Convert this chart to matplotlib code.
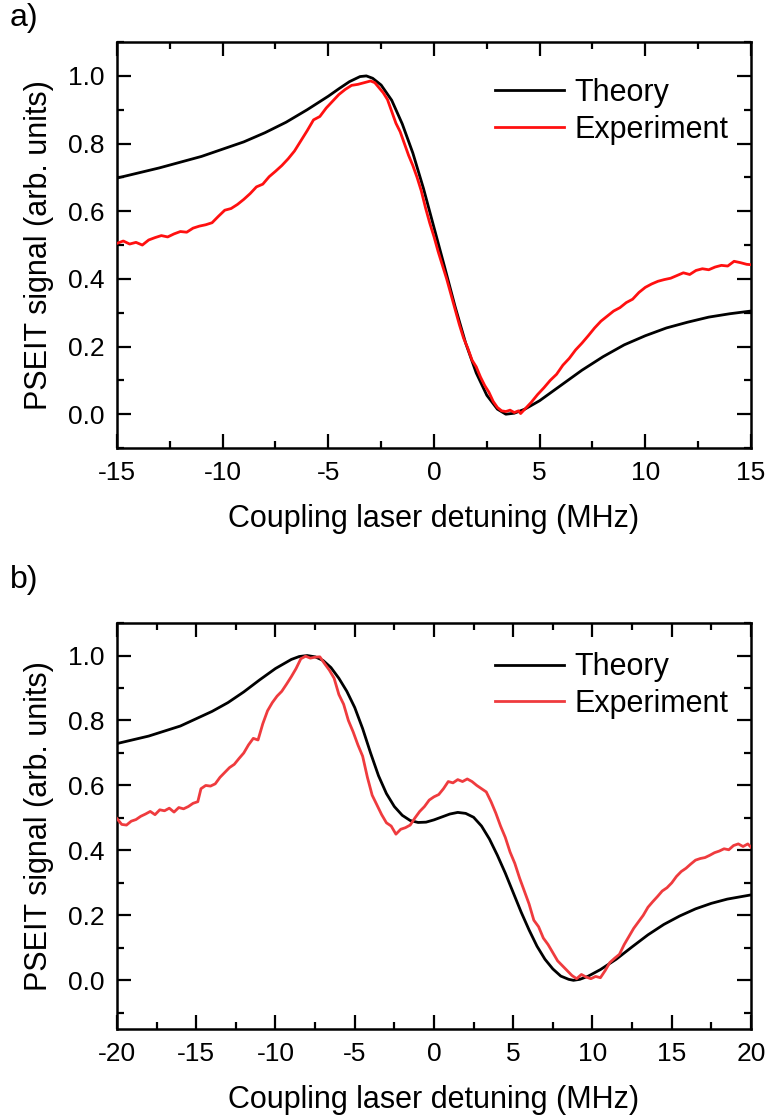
import numpy as np
import matplotlib
matplotlib.use('Agg')
import matplotlib.pyplot as plt
from matplotlib.ticker import MultipleLocator, FormatStrFormatter

# ---------------- data ----------------
# panel a) theory
theo_a_x = [-15, -13, -11, -9, -8, -7, -6, -5, -4.5, -4, -3.5, -3.2, -2.9, -2.5, -2.0,
            -1.5, -1.0, -0.5, 0.0, 0.5, 1.0, 1.5, 2.0, 2.5, 3.0, 3.4, 3.8, 4.3, 5, 6, 7,
            8, 9, 10, 11, 12, 13, 14, 15]
theo_a_y = [0.698, 0.728, 0.762, 0.805, 0.832, 0.863, 0.900, 0.940, 0.962, 0.983, 0.998,
            1.000, 0.993, 0.973, 0.928, 0.858, 0.772, 0.668, 0.552, 0.436, 0.318, 0.210,
            0.122, 0.056, 0.015, 0.000, 0.003, 0.015, 0.040, 0.085, 0.130, 0.170, 0.205,
            0.232, 0.255, 0.272, 0.287, 0.297, 0.305]

# panel a) experiment
exp_a_x = [-15.0, -14.7, -14.4, -14.1, -13.8, -13.5, -13.2, -12.9, -12.6, -12.3, -12.0,
           -11.7, -11.4, -11.1, -10.8, -10.5, -10.2, -9.9, -9.6, -9.3, -9.0, -8.7, -8.4,
           -8.1, -7.8, -7.5, -7.2, -6.9, -6.6, -6.3, -6.0, -5.7, -5.4, -5.1, -4.8, -4.5,
           -4.2, -3.9, -3.6, -3.3, -3.0, -2.8, -2.6, -2.4, -2.2, -2.0, -1.8, -1.6, -1.4,
           -1.2, -1.0, -0.8, -0.6, -0.4, -0.2, 0.0, 0.2, 0.4, 0.6, 0.8, 1.0, 1.2, 1.4,
           1.6, 1.8, 2.0, 2.2, 2.4, 2.6, 2.8, 3.0, 3.2, 3.4, 3.6, 3.8, 4.0, 4.1, 4.3,
           4.6, 4.9, 5.2, 5.5, 5.8, 6.1, 6.4, 6.7, 7.0, 7.3, 7.6, 7.9, 8.2, 8.5, 8.8,
           9.1, 9.4, 9.7, 10.0, 10.3, 10.6, 10.9, 11.2, 11.5, 11.8, 12.1, 12.4, 12.7,
           13.0, 13.3, 13.6, 13.9, 14.2, 14.5, 14.8, 15.0]
exp_a_y = [0.505, 0.512, 0.503, 0.508, 0.500, 0.515, 0.522, 0.528, 0.524, 0.533, 0.540,
           0.538, 0.550, 0.556, 0.560, 0.566, 0.585, 0.603, 0.608, 0.620, 0.635, 0.652,
           0.672, 0.680, 0.702, 0.718, 0.735, 0.755, 0.778, 0.808, 0.838, 0.870, 0.880,
           0.905, 0.925, 0.945, 0.960, 0.972, 0.975, 0.980, 0.985, 0.980, 0.965, 0.950,
           0.930, 0.895, 0.860, 0.835, 0.800, 0.765, 0.735, 0.700, 0.660, 0.610, 0.565,
           0.525, 0.480, 0.440, 0.400, 0.355, 0.310, 0.265, 0.225, 0.195, 0.160, 0.140,
           0.110, 0.085, 0.065, 0.038, 0.020, 0.010, 0.008, 0.012, 0.005, 0.010, 0.002,
           0.015, 0.035, 0.058, 0.078, 0.100, 0.118, 0.145, 0.165, 0.190, 0.210, 0.232,
           0.255, 0.275, 0.290, 0.305, 0.315, 0.330, 0.340, 0.360, 0.375, 0.385, 0.393,
           0.398, 0.402, 0.410, 0.418, 0.413, 0.425, 0.430, 0.427, 0.435, 0.440, 0.438,
           0.452, 0.448, 0.443, 0.442]

# panel b) theory
theo_b_x = [-20, -18, -16, -14, -13, -12, -11, -10, -9, -8.5, -8, -7.5, -7, -6.5, -6,
            -5.5, -5, -4.5, -4, -3.5, -3, -2.5, -2, -1.5, -1, -0.5, 0, 0.5, 1, 1.5, 2,
            2.5, 3, 3.5, 4, 4.5, 5, 5.5, 6, 6.5, 7, 7.5, 8, 8.5, 8.8, 9.2, 9.7, 10.5,
            11.5, 12.5, 13.5, 14.5, 15.5, 16.5, 17.5, 18.5, 20]
theo_b_y = [0.729, 0.752, 0.783, 0.828, 0.855, 0.888, 0.925, 0.960, 0.988, 0.997, 1.000,
            0.996, 0.985, 0.963, 0.930, 0.890, 0.840, 0.775, 0.700, 0.630, 0.575, 0.535,
            0.508, 0.492, 0.486, 0.487, 0.494, 0.503, 0.512, 0.517, 0.514, 0.502, 0.475,
            0.435, 0.385, 0.330, 0.270, 0.210, 0.155, 0.105, 0.065, 0.035, 0.013, 0.003,
            0.000, 0.003, 0.012, 0.033, 0.065, 0.103, 0.140, 0.172, 0.198, 0.220, 0.237,
            0.250, 0.263]

# panel b) experiment
exp_b_x = [-20.0, -19.7, -19.4, -19.1, -18.8, -18.5, -18.2, -17.9, -17.6, -17.3, -17.0,
           -16.7, -16.4, -16.1, -15.8, -15.5, -15.2, -14.9, -14.7, -14.4, -14.1, -13.8,
           -13.5, -13.2, -12.9, -12.6, -12.3, -12.0, -11.7, -11.4, -11.1, -10.8, -10.5,
           -10.2, -9.9, -9.6, -9.3, -9.0, -8.7, -8.4, -8.1, -7.8, -7.5, -7.2, -6.9, -6.6,
           -6.3, -6.0, -5.7, -5.4, -5.1, -4.8, -4.5, -4.2, -3.9, -3.6, -3.3, -3.0, -2.7,
           -2.4, -2.1, -1.8, -1.5, -1.2, -0.9, -0.6, -0.3, 0.0, 0.3, 0.6, 0.9, 1.2, 1.5,
           1.8, 2.1, 2.4, 2.7, 3.0, 3.3, 3.6, 3.9, 4.2, 4.5, 4.8, 5.1, 5.4, 5.7, 6.0,
           6.3, 6.6, 6.9, 7.2, 7.5, 7.8, 8.1, 8.4, 8.7, 9.0, 9.3, 9.6, 9.9, 10.2, 10.5,
           10.8, 11.1, 11.4, 11.7, 12.0, 12.3, 12.6, 12.9, 13.2, 13.5, 13.8, 14.1, 14.4,
           14.7, 15.0, 15.3, 15.6, 15.9, 16.2, 16.5, 16.8, 17.1, 17.4, 17.7, 18.0, 18.3,
           18.6, 18.9, 19.2, 19.5, 19.8, 20.0]
exp_b_y = [0.498, 0.480, 0.478, 0.490, 0.495, 0.505, 0.512, 0.520, 0.510, 0.525, 0.522,
           0.530, 0.518, 0.532, 0.528, 0.535, 0.545, 0.550, 0.590, 0.600, 0.598, 0.605,
           0.625, 0.640, 0.655, 0.665, 0.683, 0.700, 0.725, 0.745, 0.740, 0.790, 0.830,
           0.855, 0.875, 0.890, 0.912, 0.935, 0.960, 0.990, 0.998, 0.992, 0.995, 0.996,
           0.975, 0.955, 0.930, 0.880, 0.850, 0.800, 0.765, 0.725, 0.690, 0.625, 0.570,
           0.540, 0.510, 0.485, 0.475, 0.450, 0.465, 0.470, 0.478, 0.500, 0.520, 0.535,
           0.555, 0.565, 0.572, 0.590, 0.612, 0.608, 0.618, 0.612, 0.620, 0.612, 0.600,
           0.590, 0.580, 0.550, 0.515, 0.475, 0.440, 0.395, 0.360, 0.315, 0.275, 0.235,
           0.185, 0.165, 0.130, 0.110, 0.085, 0.060, 0.045, 0.030, 0.015, 0.005, 0.018,
           0.010, 0.005, 0.012, 0.008, 0.030, 0.055, 0.068, 0.080, 0.110, 0.135, 0.160,
           0.180, 0.200, 0.225, 0.242, 0.258, 0.275, 0.285, 0.300, 0.320, 0.335, 0.345,
           0.358, 0.370, 0.375, 0.378, 0.385, 0.393, 0.398, 0.405, 0.402, 0.415, 0.420,
           0.412, 0.420, 0.410]

# ---------------- style ----------------
font = {'family': 'Liberation Sans', 'size': 19}
plt.rc('font', **font)
plt.rcParams['axes.unicode_minus'] = False

fig = plt.figure(figsize=(7.66, 11.19), dpi=100)

def style_axes(ax, xlim, ylim, xmajor, xminor):
    ax.set_xlim(*xlim)
    ax.set_ylim(*ylim)
    ax.xaxis.set_major_locator(MultipleLocator(xmajor))
    ax.xaxis.set_minor_locator(MultipleLocator(xminor))
    ax.yaxis.set_major_locator(MultipleLocator(0.2))
    ax.yaxis.set_minor_locator(MultipleLocator(0.1))
    ax.yaxis.set_major_formatter(FormatStrFormatter('%.1f'))
    ax.tick_params(which='both', direction='in', top=True, right=True, width=1.6)
    ax.tick_params(which='major', length=10, pad=9, labelsize=19)
    ax.tick_params(which='minor', length=5)
    for s in ax.spines.values():
        s.set_linewidth(1.8)
    ax.set_xlabel('Coupling laser detuning (MHz)', fontsize=22, labelpad=14)
    ax.set_ylabel('PSEIT signal (arb. units)', fontsize=22, labelpad=10)

##################################################
##  a) narrow scan
##################################################
ax1 = fig.add_axes([0.1527, 0.5996, 0.8277, 0.3628])
ax1.plot(theo_a_x, theo_a_y, color='black', lw=2.0, label='Theory', zorder=2)
ax1.plot(exp_a_x, exp_a_y, color='#ff1010', lw=2.0, label='Experiment', zorder=3)
style_axes(ax1, (-15, 15), (-0.1, 1.1), 5, 2.5)
ax1.legend(loc='upper left', bbox_to_anchor=(0.596, 0.912), frameon=False, fontsize=22,
           handlelength=2.25, handletextpad=0.35, labelspacing=0.22, borderpad=0,
           borderaxespad=0)
fig.text(0.013, 0.984, 'a)', fontsize=23, va='center', ha='left')

##################################################
##  b) wide scan
##################################################
ax2 = fig.add_axes([0.1527, 0.0804, 0.8277, 0.3628])
ax2.plot(theo_b_x, theo_b_y, color='black', lw=2.0, label='Theory', zorder=2)
ax2.plot(exp_b_x, exp_b_y, color='#ef3b3e', lw=2.0, label='Experiment', zorder=3)
style_axes(ax2, (-20, 20), (-0.15, 1.1), 5, 2.5)
ax2.legend(loc='upper left', bbox_to_anchor=(0.596, 0.928), frameon=False, fontsize=22,
           handlelength=2.25, handletextpad=0.35, labelspacing=0.22, borderpad=0,
           borderaxespad=0)
fig.text(0.013, 0.482, 'b)', fontsize=23, va='center', ha='left')

fig.savefig('out.png', dpi=100)
